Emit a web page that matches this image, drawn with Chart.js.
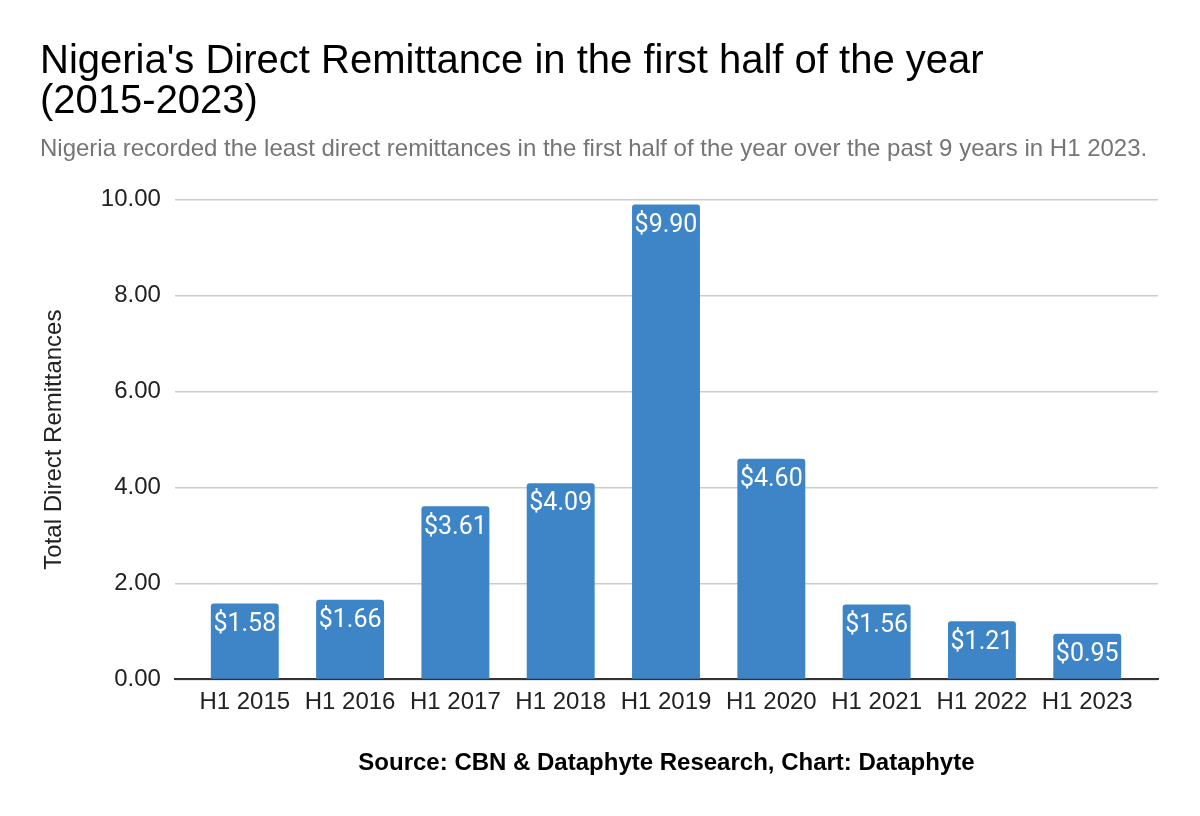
<!DOCTYPE html>
<html>
<head>
<meta charset="utf-8">
<script src="https://cdn.jsdelivr.net/npm/chart.js@4.4.0/dist/chart.umd.min.js"></script>
<style>
  html, body { margin: 0; padding: 0; background: #fff; }
  #wrap { width: 1200px; height: 816px; }
</style>
</head>
<body>
<div id="wrap"><canvas id="chart" width="1200" height="816"></canvas></div>
<script>
var categories = ['H1 2015', 'H1 2016', 'H1 2017', 'H1 2018', 'H1 2019', 'H1 2020', 'H1 2021', 'H1 2022', 'H1 2023'];
var remittances = [1.58, 1.66, 3.61, 4.09, 9.90, 4.60, 1.56, 1.21, 0.95];
var yTicks = [0, 2, 4, 6, 8, 10];

// white value labels just inside the top of each bar
var barLabels = {
    id: 'barLabels',
    afterDatasetsDraw: function(chart) {
        var ctx = chart.ctx;
        var meta = chart.getDatasetMeta(0);
        ctx.save();
        ctx.font = '25px Roboto';
        ctx.fillStyle = '#ffffff';
        ctx.textAlign = 'center';
        ctx.textBaseline = 'middle';
        meta.data.forEach(function(bar, i) {
            ctx.fillText('$' + remittances[i].toFixed(2), bar.x, bar.y + 21);
        });
        ctx.restore();
    }
};

// linear x so the bars sit inset from the gridline ends, like sheets does
var points = remittances.map(function(v, i) { return { x: i, y: v }; });

var ctx = document.getElementById('chart').getContext('2d');
var chart = new Chart(ctx, {
    type: 'bar',
    data: {
        datasets: [{
            label: 'Total Direct Remittances',
            data: points,
            backgroundColor: '#3d85c6',
            borderRadius: { topLeft: 3, topRight: 3 },
            borderSkipped: 'bottom',
            barPercentage: 0.645,
            categoryPercentage: 1
        }]
    },
    options: {
        responsive: false,
        animation: false,
        layout: { padding: { left: 40, right: 42, top: 42, bottom: 38 } },
        plugins: {
            legend: { display: false },
            tooltip: { enabled: false },
            title: {
                display: true,
                align: 'start',
                text: ["Nigeria's Direct Remittance in the first half of the year", '(2015-2023)'],
                color: '#000000',
                font: { family: 'Liberation Sans', size: 40, weight: 'normal', lineHeight: 1.0 },
                padding: { top: 0, bottom: 13 }
            },
            subtitle: {
                display: true,
                align: 'start',
                text: 'Nigeria recorded the least direct remittances in the first half of the year over the past 9 years in H1 2023.',
                color: '#757575',
                font: { family: 'Liberation Sans', size: 24 },
                padding: { top: 0, bottom: 36 }
            }
        },
        scales: {
            x: {
                type: 'linear',
                offset: false,
                min: -0.664,
                max: 8.672,
                afterBuildTicks: function(scale) {
                    scale.ticks = categories.map(function(c, i) { return { value: i }; });
                },
                grid: { display: false },
                border: { display: true, color: '#333333', width: 2 },
                ticks: {
                    color: '#222222',
                    font: { family: 'Liberation Sans', size: 24 },
                    padding: 1,
                    maxRotation: 0,
                    autoSkip: false,
                    callback: function(v) { return categories[v]; }
                },
                title: {
                    display: true,
                    text: 'Source: CBN & Dataphyte Research, Chart: Dataphyte',
                    color: '#000000',
                    font: { family: 'Liberation Sans', size: 24, weight: 'bold' },
                    padding: { top: 31, bottom: 0 }
                }
            },
            y: {
                min: 0,
                max: 10,
                afterBuildTicks: function(scale) {
                    scale.ticks = yTicks.map(function(v) { return { value: v }; });
                },
                grid: { color: '#cccccc', lineWidth: 1.5, drawTicks: false },
                border: { display: false },
                ticks: {
                    color: '#222222',
                    font: { family: 'Liberation Sans', size: 24 },
                    padding: 14,
                    callback: function(v) { return Number(v).toFixed(2); }
                },
                title: {
                    display: true,
                    text: 'Total Direct Remittances',
                    color: '#222222',
                    font: { family: 'Liberation Sans', size: 24 },
                    padding: { top: 0, bottom: 18 }
                }
            }
        }
    },
    plugins: [barLabels]
});
</script>
</body>
</html>
